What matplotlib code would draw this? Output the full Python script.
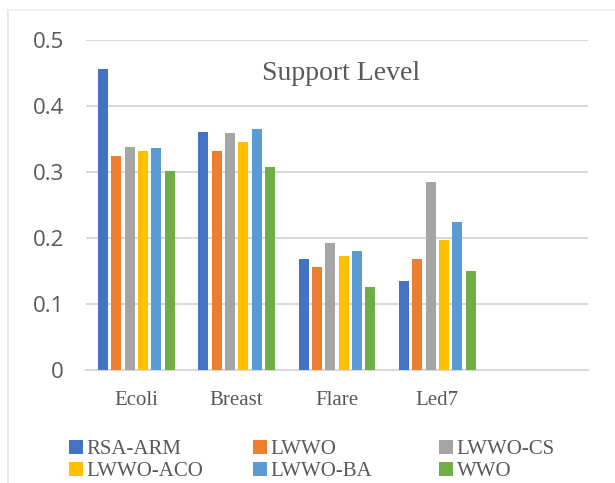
import matplotlib
matplotlib.use("Agg")
import matplotlib.pyplot as plt
from matplotlib.lines import Line2D
import numpy as np

# support level per dataset for each algorithm
datasets = ["Ecoli", "Breast", "Flare", "Led7"]
methods = ["RSA-ARM", "LWWO", "LWWO-CS", "LWWO-ACO", "LWWO-BA", "WWO"]
rsa_arm = [0.456, 0.360, 0.168, 0.135]
lwwo = [0.325, 0.332, 0.156, 0.168]
lwwo_cs = [0.338, 0.359, 0.192, 0.285]
lwwo_aco = [0.332, 0.346, 0.172, 0.197]
lwwo_ba = [0.336, 0.365, 0.180, 0.224]
wwo = [0.302, 0.307, 0.126, 0.150]
series = [rsa_arm, lwwo, lwwo_cs, lwwo_aco, lwwo_ba, wwo]
colors = ["#4472C4", "#ED7D31", "#A5A5A5", "#FFC000", "#5B9BD5", "#70AD47"]

text_grey = "#595959"
grid_grey = "#D9D9D9"

fig = plt.figure(figsize=(6.15, 4.83), dpi=100)
ax = fig.add_axes([86 / 615, 1 - 370 / 483, 502 / 615, 330 / 483])

x = np.arange(len(datasets))
pitch = 0.133
width = 0.10
handles = []
for i, (vals, c, name) in enumerate(zip(series, colors, methods)):
    b = ax.bar(x + (i - 2.5) * pitch, vals, width=width, color=c, label=name, zorder=3)
    handles.append(b)

# one spare empty slot on the right, like the source sheet
ax.set_xlim(-0.5, len(datasets) + 0.5)
ax.set_ylim(0, 0.5)
ax.set_yticks([0, 0.1, 0.2, 0.3, 0.4, 0.5])
ax.set_yticklabels(["0", "0.1", "0.2", "0.3", "0.4", "0.5"])
ax.set_xticks(x)
ax.set_xticklabels(datasets, family="Liberation Serif", fontsize=15, color=text_grey)
ax.tick_params(axis="y", length=0, pad=16, labelsize=16, labelcolor=text_grey)
ax.tick_params(axis="x", length=0, pad=15)
for lab in ax.get_yticklabels():
    lab.set_family("Open Sans")

ax.grid(axis="y", color=grid_grey, linewidth=1.5, zorder=0)
for s in ["top", "right", "left"]:
    ax.spines[s].set_visible(False)
ax.spines["bottom"].set_color(grid_grey)
ax.spines["bottom"].set_linewidth(1.5)

ax.text(0.508, 0.90, "Support Level", transform=ax.transAxes, ha="center", va="center",
        family="Liberation Serif", fontsize=20, color=text_grey)

# legend: three columns, two rows, filled row by row
col_left = [69, 253, 439]
for col, left in enumerate(col_left):
    idx = [col, col + 3]
    leg = fig.legend([handles[k] for k in idx], [methods[k] for k in idx],
                     loc="center left", bbox_to_anchor=(left / 615, 1 - 460.5 / 483),
                     frameon=False, prop={"family": "Liberation Serif", "size": 15},
                     handlelength=0.65, handleheight=0.65, handletextpad=0.2,
                     labelspacing=0.12, borderpad=0, borderaxespad=0)
    for t in leg.get_texts():
        t.set_color(text_grey)

# thin frame lines along the left and top edges
fig.add_artist(Line2D([8 / 615, 8 / 615], [0, 1 - 10 / 483], transform=fig.transFigure,
                      color="#E4E4E4", linewidth=1.2))
fig.add_artist(Line2D([8 / 615, 1], [1 - 10 / 483, 1 - 10 / 483], transform=fig.transFigure,
                      color="#F0F0F0", linewidth=1.2))

fig.savefig("out.png", dpi=100)
